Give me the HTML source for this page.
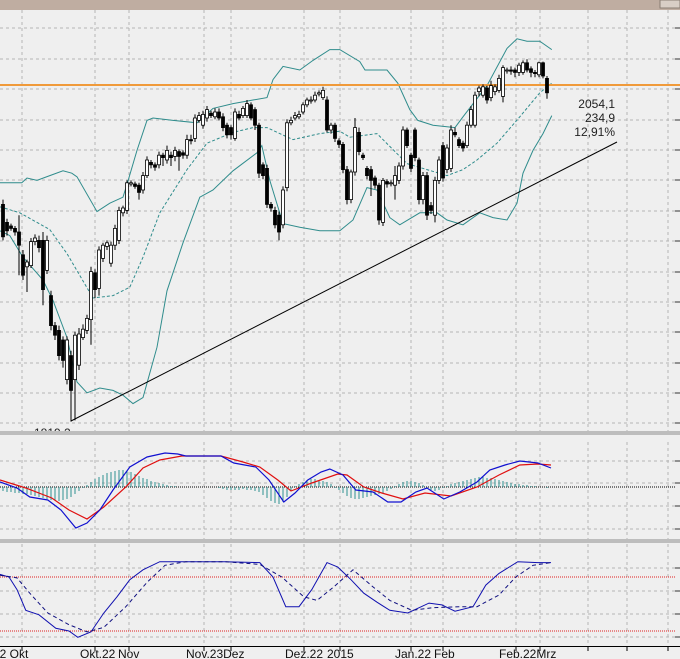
<!DOCTYPE html>
<html><head><meta charset="utf-8"><style>
html,body{margin:0;padding:0;background:#efefef;}
svg{display:block;font-family:"Liberation Sans",sans-serif;}
</style></head><body>
<svg id="c" width="680" height="659" viewBox="0 0 680 659">
<rect x="0" y="0" width="680" height="659" fill="#efefef"/>
<rect x="0" y="0" width="680" height="10" fill="#bfada1"/>
<rect x="660" y="0" width="20" height="8" fill="#d8cec6" stroke="#8a7d74"/>
<g id="grid"></g>
<g id="main"></g>
<g id="macd"></g>
<g id="stoch"></g>
<g id="axis"></g>
</svg>
<script>
const open=[1998,1983,1980,1978,1975,1956,1946,1947,1967,1968,1968,1943,1922,1897,1893,1885,1852,1872,1852,1864,1887,1893,1902,1941,1928,1953,1963,1949,1964,1968,1991,1993,2015,2015,2014,2010,2022,2033,2031,2031,2039,2035,2039,2038,2042,2041,2039,2052,2053,2068,2064,2070,2074,2071,2075,2071,2064,2062,2053,2073,2072,2072,2081,2077,2064,2031,2028,1998,1993,1989,1981,2012,2066,2070,2071,2075,2081,2085,2085,2090,2087,2085,2060,2064,2051,2048,2027,2002,2025,2058,2039,2028,2027,2020,2014,1983,2017,2016,2014,2018,2030,2060,2039,2060,2035,2002,2022,1997,1989,2018,2047,2027,2028,2058,2052,2049,2047,2064,2064,2092,2089,2095,2087,2092,2093,2088,2110,2110,2110,2108,2108,2116,2111,2108,2106,2116,2103];
const high=[2002,1986,1982,1980,1989,1960,1952,1970,1973,1972,1975,1972,1926,1900,1897,1888,1888,1876,1892,1895,1898,1906,1946,1944,1963,1966,1968,1967,1981,1996,1997,2018,2018,2017,2016,2025,2038,2035,2033,2042,2041,2047,2042,2046,2044,2043,2056,2056,2073,2075,2076,2080,2076,2078,2078,2074,2066,2064,2078,2076,2080,2085,2083,2079,2066,2033,2031,2000,1996,1992,2013,2069,2071,2075,2076,2083,2087,2088,2092,2093,2096,2088,2066,2066,2053,2050,2030,2027,2070,2062,2041,2030,2030,2022,2016,2020,2019,2018,2030,2033,2063,2062,2041,2062,2037,2025,2025,2000,2021,2038,2050,2048,2064,2062,2054,2051,2067,2080,2092,2097,2098,2097,2101,2098,2106,2114,2112,2113,2112,2116,2118,2119,2113,2110,2117,2117,2105];
const low=[1968,1972,1976,1972,1939,1935,1925,1945,1964,1958,1914,1940,1893,1885,1868,1862,1848,1817,1818,1860,1885,1890,1881,1920,1922,1950,1960,1946,1960,1965,1988,1990,2013,2011,2002,2007,2020,2028,2026,2028,2030,2032,2030,2034,2026,2036,2036,2048,2050,2066,2061,2067,2070,2069,2068,2059,2053,2052,2051,2068,2070,2070,2068,2060,2020,2019,1995,1992,1978,1968,1978,2009,2064,2068,2069,2073,2079,2082,2083,2088,2085,2058,2057,2050,2045,2024,1998,1999,2022,2039,2035,2019,2005,2011,1981,1980,2012,2013,2002,2015,2027,2045,2025,2034,1998,1998,1985,1990,1983,2015,2017,2024,2025,2054,2045,2042,2045,2062,2062,2088,2087,2082,2084,2089,2091,2083,2107,2106,2104,2105,2106,2108,2104,2104,2104,2103,2086];
const close=[1971,1976,1978,1975,1964,1939,1950,1967,1970,1962,1927,1968,1897,1889,1872,1868,1885,1843,1889,1890,1894,1903,1942,1927,1960,1964,1966,1964,1978,1993,1995,2016,2016,2013,2008,2022,2035,2031,2029,2039,2037,2043,2037,2043,2038,2039,2052,2051,2070,2072,2073,2077,2072,2075,2070,2062,2056,2056,2075,2070,2078,2082,2070,2064,2024,2022,1998,1995,1981,1975,2010,2066,2068,2072,2073,2081,2085,2085,2089,2091,2093,2060,2064,2053,2048,2027,2002,2025,2062,2042,2037,2022,2018,2014,1985,2018,2015,2016,2022,2030,2060,2047,2028,2037,2002,2022,1989,1993,2018,2035,2020,2045,2060,2056,2047,2045,2064,2077,2089,2095,2096,2085,2097,2096,2103,2112,2110,2109,2108,2114,2116,2110,2108,2107,2116,2105,2091];
const upperIdx=[-0.75,2.5,4.7,6,8.5,11.7,15,17.2,18.5,23.5,26.7,30,31.2,33.5,36,37.5,42.5,48.5,52.5,57.5,62.5,66,67.5,70,74.2,77.5,81.7,84.2,89.2,90.5,96,98.7,101.7,103.7,107.5,113,115,121,126,128.5,131,134.2,137.2];
const upperVal=[2016,2016,2016,2020,2018,2022,2026,2024,2021,1992,1999,2004,2017,2043,2068,2070,2068,2066,2078,2082,2085,2087,2102,2113,2110,2118,2127,2127,2117,2110,2110,2099,2077,2068,2064,2062,2071,2097,2128,2136,2134,2134,2127];
const midIdx=[-0.75,4.2,11.7,16,22.5,27.5,31.7,35,39.2,46,51,57.5,62.5,66,69.2,72.5,79.2,84.2,86.7,93.5,101,106,111,115,118.5,123.5,129.2,134.2,137.2];
const midVal=[1996,1991,1977,1957,1920,1922,1929,1954,1991,2027,2049,2058,2062,2062,2057,2052,2057,2059,2054,2057,2032,2027,2022,2027,2035,2049,2071,2091,2099];
const lowerIdx=[-0.75,1.7,5,10,12.5,16,18.5,21,24.2,27.5,30,32.5,35,38.5,41,45,49.2,52.5,57.5,63.5,64.7,66.7,70,74.2,79.2,84.2,87.5,91,93.5,96.7,99.2,104.2,108.5,111,115,119.2,122.5,126,128.5,130,132.5,135,137.2];
const lowerVal=[1976,1972,1954,1935,1918,1887,1850,1841,1845,1843,1839,1832,1837,1879,1926,1966,2004,2010,2026,2041,2047,2018,1982,1979,1976,1976,1985,2012,2010,1987,1981,1991,1991,1985,1981,1991,1987,1985,1999,2024,2043,2057,2072];
const macdIdx=[-0.75,3.5,6.7,11.2,14.5,18.2,21,24.2,27.5,31.7,36,40.5,43.7,45.7,54.5,57.7,63.2,66.5,70.2,73,76.2,79.5,81.7,85,88.2,92.5,96.2,99.5,103.2,106,110.2,114.2,118.5,121.7,125.5,129.2,131.5,133.7,137];
const macdVal=[5,-1,-10,-13,-23,-41,-36,-23,-3,20,30,34,33,31,31,24,20,7,-15,-6,7,15,18,12,-3,-5,-15,-15,-5,-1,-12,-5,5,17,22,26,25,24,19];
const sigIdx=[-0.75,5.7,12.2,16.5,21,25.2,30.7,35,39.2,44.7,54.5,60,64.2,68.7,72,77.2,83.7,86,90.2,94.7,100,105.5,112,118.5,124,129.2,133.7,137];
const sigVal=[7,-1,-11,-23,-32,-20,0,19,27,31,31,25,20,7,-4,4,13,12,0,-6,-12,-6,-9,0,12,22,23,22];
const histVal=[-4,-5,-5,-6,-6,-7,-7,-8,-9,-10,-11,-12,-13,-13,-14,-13,-12,-10,-7,-4,-1,2,5,8,10,12,14,15,16,17,17,16,15,13,11,9,8,6,5,4,3,2,1,1,0,0,0,0,0,0,0,0,0,0,-1,-2,-3,-3,-3,-3,-2,-3,-3,-4,-5,-8,-11,-14,-16,-17,-15,-10,-4,1,3,5,7,8,8,7,6,5,3,-1,-3,-6,-9,-11,-12,-12,-11,-10,-9,-8,-7,-6,-4,-2,1,3,5,6,6,5,4,2,-1,-3,-4,-3,-1,1,3,4,5,6,7,8,9,10,10,9,9,8,7,6,5,4,3,3,2,2,1,1,0,0,-1];
const kIdx=[-0.75,1.5,3.5,5.7,9,13.2,16.5,18.7,22,25.2,28.5,31.7,35,39.2,47,55.5,64.2,67.5,70.7,74,77.2,81,83.7,87,90.2,93.5,96.7,101.2,106.5,109.7,113,117.5,120.7,124,128.7,133.7,137];
const kVal=[83,80,66,43,38,23,20,13,19,40,58,77,88,97,97,97,96,80,47,47,66,96,91,77,62,52,43,40,51,49,42,47,71,84,97,96,96];
const dIdx=[-0.75,3.5,6.7,11.2,16.5,21,25.2,30.7,36,40.5,45.7,55.5,64.2,69.7,75.2,78.5,82.7,87.5,92.5,96.7,102.2,107.7,114.2,118.5,124,128.2,132.5,137];
const dVal=[82,79,62,40,27,19,24,47,74,93,97,97,94,80,58,54,69,88,69,54,43,46,47,47,60,80,93,96];
const xLabels=["22 Okt","Okt.22","Nov","Nov.23Dez","Dez.22","2015","Jan.22","Feb","Feb.22Mrz"];
const xLabelPos=[-7,80,118,186,285,327,395,434,499];
const priceNotes=["2054,1","234,9","12,91%"];
const lowNote="1819,2";
const resistance=2097.5;
const trendStart=[17,1817.5], trendEnd=[153.5,2050];

const NS="http://www.w3.org/2000/svg";
const xS=i=>3+i*4.0;
const yP=p=>10+(2160-p)*1.2;
const yM=v=>487-v;
const yS=v=>577+(80-v)*0.9;
function mk(par,tag,at){const e=document.createElementNS(NS,tag);for(const k in at)e.setAttribute(k,at[k]);document.getElementById(par).appendChild(e);return e;}
function path(idx,val,ys){return idx.map((d,i)=>(i?'L':'M')+xS(d).toFixed(1)+','+ys(val[i]).toFixed(1)).join('');}

const vx=[22,95,129,204,231,304,340,411,443,516,540,588,627,668];
vx.forEach(x=>{const l=mk('grid','line',{x1:x,y1:10,x2:x,y2:646,stroke:'#b4b4b4','stroke-dasharray':'3,3'});

});
const mainTicks=[28,59,89,120,150,180,211,241,272,302,332,363,393,423];
const subTicks=[461,483,506,529,568,591,614,637];
mainTicks.concat(subTicks).forEach(y=>{const l=mk('grid','line',{x1:0,y1:y,x2:675,y2:y,stroke:'#b4b4b4','stroke-dasharray':'3,3'});


const t=mk('grid','line',{x1:675,y1:y,x2:680,y2:y,stroke:'#333'});

});

[[upperIdx,upperVal,'upper-bollinger-band',''],[midIdx,midVal,'middle-bollinger-band','3,2'],[lowerIdx,lowerVal,'lower-bollinger-band','']].forEach(b=>{
const p=mk('main','path',{d:path(b[0],b[1],yP),fill:'none',stroke:'#2f8c8c','stroke-width':1,'stroke-dasharray':b[3]});

});
const rl=mk('main','line',{x1:0,y1:yP(resistance),x2:680,y2:yP(resistance),stroke:'#f09a3a','stroke-width':2});


const tl=mk('main','line',{x1:xS(trendStart[0]),y1:yP(trendStart[1]),x2:xS(trendEnd[0]),y2:yP(trendEnd[1]),stroke:'#000','stroke-width':1});


open.forEach((o,i)=>{const c=close[i],x=xS(i);
const w=mk('main','line',{x1:x,y1:yP(high[i]),x2:x,y2:yP(low[i]),stroke:'#000'});


const top=Math.min(yP(o),yP(c)),h=Math.max(1,Math.abs(yP(o)-yP(c)));
const r=mk('main','rect',{x:x-1.5,y:top,width:3,height:h,fill:c<o?'#000':'#fff',stroke:'#000','stroke-width':0.8});

});
priceNotes.forEach((t,i)=>{const e=mk('main','text',{x:615,y:108+i*14,'text-anchor':'end','font-size':12,fill:'#222'});e.textContent=t;

});
const ln=mk('main','text',{x:34,y:437,'font-size':12,fill:'#222'});ln.textContent=lowNote;



[431,539].forEach(y=>{const s=mk('axis','rect',{x:0,y:y,width:680,height:4,fill:'#bdbdbd'});

});
const cover=mk('axis','rect',{x:0,y:435,width:680,height:6,fill:'#efefef'});



const zl=mk('macd','line',{x1:0,y1:yM(0),x2:675,y2:yM(0),stroke:'#000','stroke-dasharray':'1,1'});


histVal.forEach((v,i)=>{const b=mk('macd','line',{x1:xS(i),y1:yM(0),x2:xS(i),y2:yM(v),stroke:'#2f9090'});

});
const sg=mk('macd','path',{d:path(sigIdx,sigVal,yM),fill:'none',stroke:'#e01010','stroke-width':1.2});


const mc=mk('macd','path',{d:path(macdIdx,macdVal,yM),fill:'none',stroke:'#1010d0','stroke-width':1.2});



[80,20].forEach(v=>{const l=mk('stoch','line',{x1:0,y1:yS(v),x2:675,y2:yS(v),stroke:'#e02020','stroke-dasharray':'1,1'});

});
const kl=mk('stoch','path',{d:path(kIdx,kVal,yS),fill:'none',stroke:'#1010b0','stroke-width':1});


const dl=mk('stoch','path',{d:path(dIdx,dVal,yS),fill:'none',stroke:'#101080','stroke-width':1,'stroke-dasharray':'4,3'});



const ax=mk('axis','line',{x1:0,y1:646.5,x2:680,y2:646.5,stroke:'#000'});


vx.forEach(x=>{const t=mk('axis','line',{x1:x,y1:646,x2:x,y2:651,stroke:'#000'});

});
xLabels.forEach((s,i)=>{const t=mk('axis','text',{x:xLabelPos[i],y:658,'font-size':12,fill:'#111'});t.textContent=s;

});
</script>
</body></html>
